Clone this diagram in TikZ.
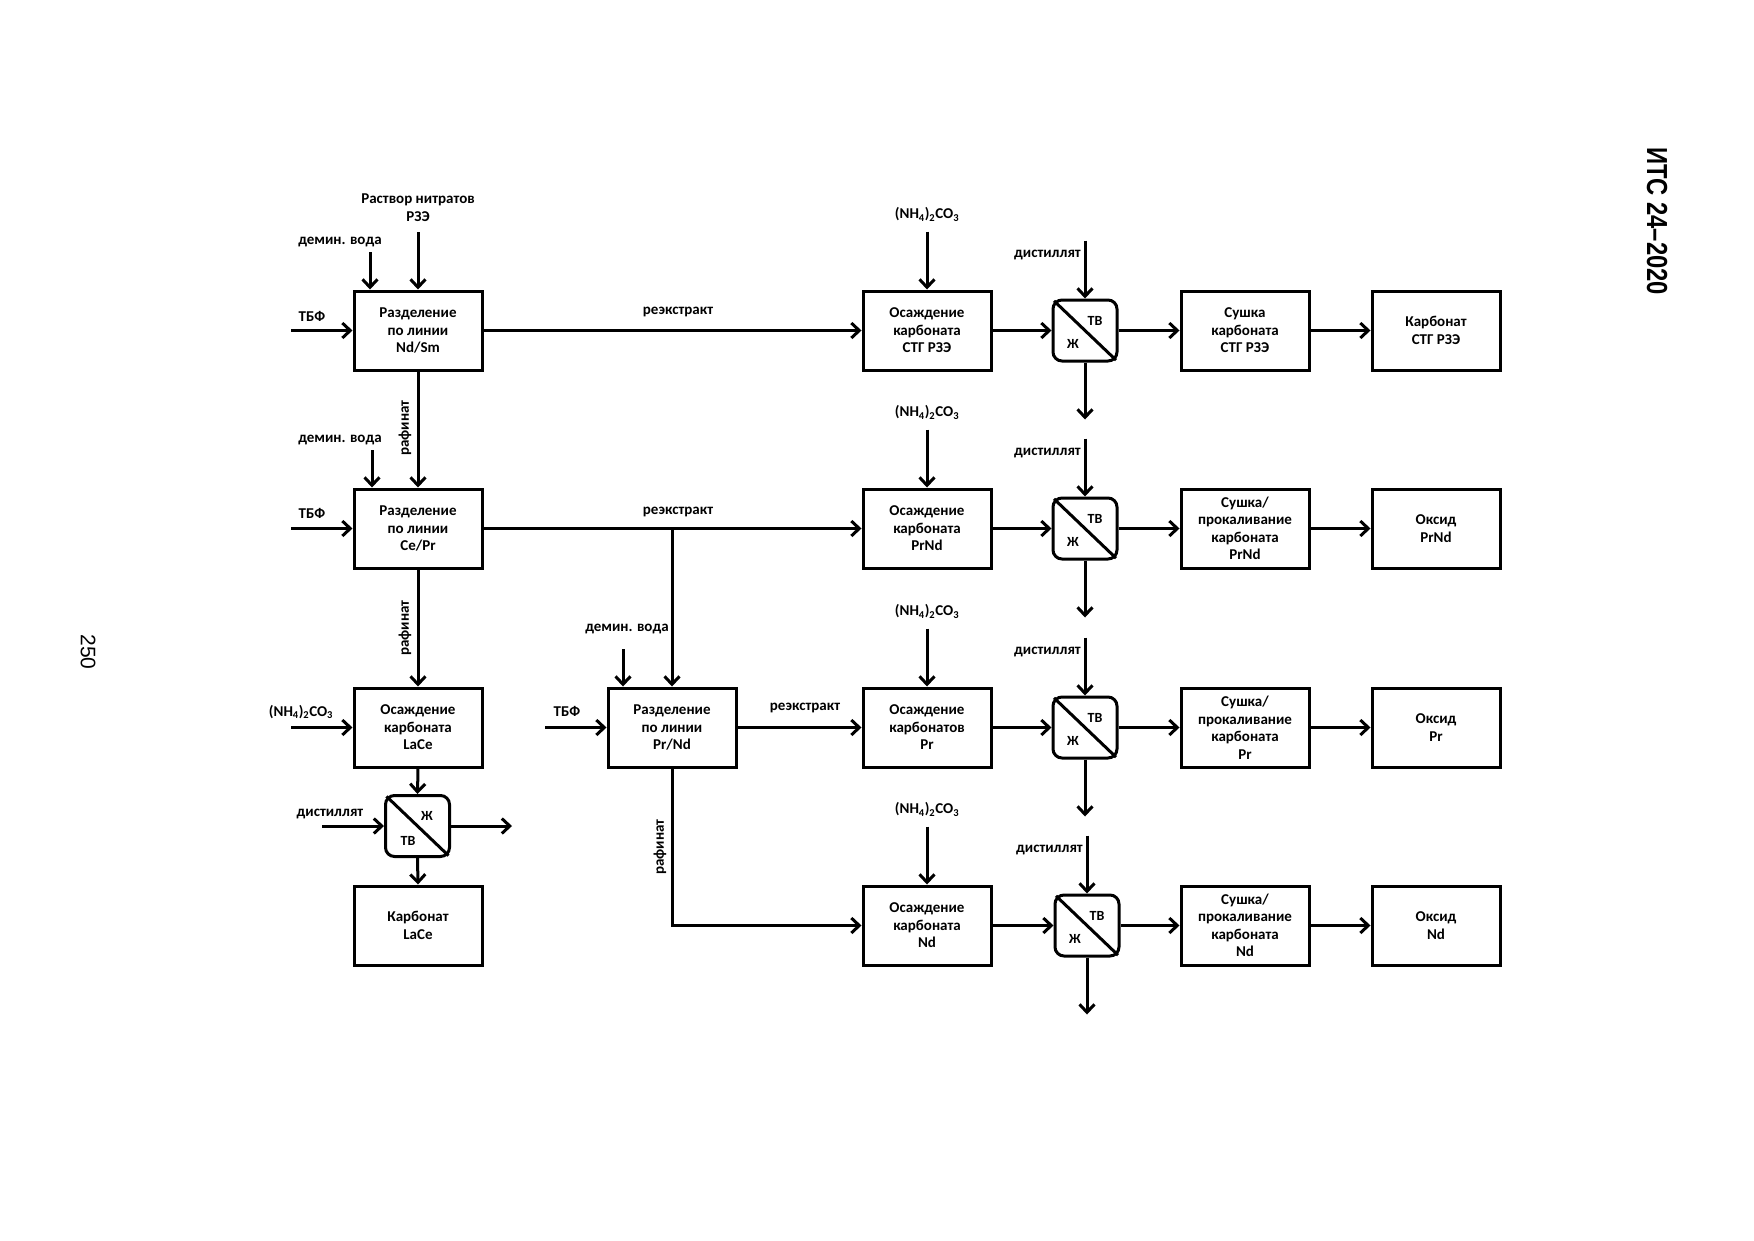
\documentclass[tikz,border=0pt]{standalone}
\usepackage{fontspec}
\usepackage{graphicx}
\setmainfont{Carlito}
\newfontfamily\arialf{Liberation Sans}
\usetikzlibrary{arrows.meta,calc}
\begin{document}
\begin{tikzpicture}[x=1pt,y=-1pt,
  box/.style={draw,line width=3pt,minimum width=128pt,minimum height=79pt,inner sep=0pt,align=center,font=\bfseries\fontsize{15}{17.5}\selectfont},
  sepbox/.style={draw,line width=3pt,rounded corners=9pt,minimum width=64pt,minimum height=61pt,inner sep=0pt},
  lbl/.style={font=\bfseries\fontsize{15}{17.5}\selectfont,inner sep=0pt,align=center},
  slbl/.style={font=\bfseries\fontsize{14}{15}\selectfont,inner sep=0pt},
  flow/.style={line width=3pt,-{Straight Barb[length=8pt,width=15pt]}},
  pipe/.style={line width=3pt}
]
\useasboundingbox[fill=white] (0,0) rectangle (1754,1240);

% header and page number
\node[rotate=-90,font=\arialf\bfseries\fontsize{29}{30}\selectfont,inner sep=0pt] (hdr) at (1657,221) {\scalebox{0.82}[1]{ИТС 24–2020}};
\node[rotate=-90,font=\arialf\fontsize{21}{22}\selectfont,inner sep=0pt] (pg) at (88,652) {250};

% column 1
\node[box] (ndsm) at (418,330.5) {Разделение\\по линии\\Nd/Sm};
\node[box] (cepr) at (418,528.5) {Разделение\\по линии\\Ce/Pr};
\node[box] (olace) at (418,727.5) {Осаждение\\карбоната\\LaCe};
\node[sepbox] (sl) at (417.5,826) {};
\node[box] (klace) at (418,925.5) {Карбонат\\LaCe};
\node[box] (prnd) at (672,727.5) {Разделение\\по линии\\Pr/Nd};

% column 2
\node[box] (o1) at (927,330.5) {Осаждение\\карбоната\\СТГ РЗЭ};
\node[box] (o2) at (927,528.5) {Осаждение\\карбоната\\PrNd};
\node[box] (o3) at (927,727.5) {Осаждение\\карбонатов\\Pr};
\node[box] (o4) at (927,925.5) {Осаждение\\карбоната\\Nd};

% separators
\node[sepbox] (s1) at (1085,330.5) {};
\node[sepbox] (s2) at (1085,528.5) {};
\node[sepbox] (s3) at (1085,727.5) {};
\node[sepbox] (s4) at (1087,925.5) {};

% column 4
\node[box] (d1) at (1245,330.5) {Сушка\\карбоната\\СТГ РЗЭ};
\node[box] (d2) at (1245,528.5) {Сушка/\\прокаливание\\карбоната\\PrNd};
\node[box] (d3) at (1245,727.5) {Сушка/\\прокаливание\\карбоната\\Pr};
\node[box] (d4) at (1245,925.5) {Сушка/\\прокаливание\\карбоната\\Nd};

% column 5
\node[box] (p1) at (1436,330.5) {Карбонат\\СТГ РЗЭ};
\node[box] (p2) at (1436,528.5) {Оксид\\PrNd};
\node[box] (p3) at (1436,727.5) {Оксид\\Pr};
\node[box] (p4) at (1436,925.5) {Оксид\\Nd};

% separator diagonals and labels
\foreach \s in {s1,s2,s3,s4,sl}{
  \draw[pipe,shorten <=3.4pt,shorten >=3.4pt] (\s.north west) -- (\s.south east);
}
\foreach \s in {s1,s2,s3,s4}{
  \node[slbl] (\s tv) at ($(\s.center)+(10,-10)$) {ТВ};
  \node[slbl] (\s zh) at ($(\s.center)+(-12,13)$) {Ж};
}
\node[slbl] (sltv) at ($(sl.center)+(-9.5,15)$) {ТВ};
\node[slbl] (slzh) at ($(sl.center)+(9.5,-10)$) {Ж};

% inputs to Nd/Sm
\coordinate (tbf1) at (291,330.5);
\draw[flow] (tbf1) -- (ndsm.west);
\node[lbl] (tbf1l) at (312,316) {ТБФ};
\coordinate (dv1) at (370,252);
\draw[flow] (dv1) -- (dv1 |- ndsm.north);
\node[lbl] (dv1l) at (340,242) {демин. вода};
\coordinate (rn) at (418,232);
\draw[flow] (rn) -- (ndsm.north);
\node[lbl] (rnl) at (418,207.5) {Раствор нитратов\\РЗЭ};

% inputs to Ce/Pr
\coordinate (tbf2) at (291,528.5);
\draw[flow] (tbf2) -- (cepr.west);
\node[lbl] (tbf2l) at (312,513) {ТБФ};
\coordinate (dv2) at (372,450);
\draw[flow] (dv2) -- (dv2 |- cepr.north);
\node[lbl] (dv2l) at (340,440) {демин. вода};

% flows from column 1
\draw[flow] (ndsm.south) -- (cepr.north);
\node[lbl,rotate=90] (raf1) at (405,428) {рафинат};
\draw[flow] (ndsm.east) -- (o1.west);
\node[lbl] (re1) at (678,312) {реэкстракт};
\draw[flow] (cepr.east) -- (o2.west);
\node[lbl] (re2) at (678,512) {реэкстракт};
\coordinate (br) at (672,528.5);
\draw[flow] (br) -- (prnd.north);
\draw[flow] (cepr.south) -- (olace.north);
\node[lbl,rotate=90] (raf2) at (405,628) {рафинат};

% LaCe branch
\coordinate (nhl) at (291,727.5);
\draw[flow] (nhl) -- (olace.west);
\node[lbl] (nhll) at (301,712) {(NH\textsubscript{4})\textsubscript{2}CO\textsubscript{3}};
\draw[flow] (olace.south) -- (sl.north);
\draw[flow] (sl.south) -- (klace.north);
\coordinate (disl) at (322,826);
\draw[flow] (disl) -- (sl.west);
\node[lbl] (disll) at (330,814) {дистиллят};
\coordinate (outl) at (512,826);
\draw[flow] (sl.east) -- (outl);

% Pr/Nd inputs and outputs
\coordinate (tbf3) at (545,727.5);
\draw[flow] (tbf3) -- (prnd.west);
\node[lbl] (tbf3l) at (567,711) {ТБФ};
\coordinate (dv3) at (623,649);
\draw[flow] (dv3) -- (dv3 |- prnd.north);
\node[lbl] (dv3l) at (627,629) {демин. вода};
\draw[flow] (prnd.east) -- (o3.west);
\node[lbl] (re3) at (805,708) {реэкстракт};
\draw[flow] (prnd.south) -- (prnd.south |- o4.west) -- (o4.west);
\node[lbl,rotate=90] (raf3) at (660,847) {рафинат};

% (NH4)2CO3 feeds to column 2
\foreach \o/\i in {o1/1,o2/2,o3/3,o4/4}{
  \coordinate (nh\i) at ($(\o.north)+(0,-58)$);
  \draw[flow] (nh\i) -- (\o.north);
  \node[lbl] (nh\i l) at ($(\o.north)+(0,-75)$) {(NH\textsubscript{4})\textsubscript{2}CO\textsubscript{3}};
}

% distillate, separator outputs, row flows
\foreach \o/\s/\d/\p/\i in {o1/s1/d1/p1/1,o2/s2/d2/p2/2,o3/s3/d3/p3/3,o4/s4/d4/p4/4}{
  \coordinate (di\i) at ($(\s.north)+(0,-58)$);
  \draw[flow] (di\i) -- (\s.north);
  \node[lbl,anchor=east] (di\i l) at ($(\s.north)+(-4,-43)$) {дистиллят};
  \coordinate (dn\i) at ($(\s.south)+(0,57)$);
  \draw[flow] (\s.south) -- (dn\i);
  \draw[flow] (\o.east) -- (\s.west);
  \draw[flow] (\s.east) -- (\d.west);
  \draw[flow] (\d.east) -- (\p.west);
}
\end{tikzpicture}
\end{document}
